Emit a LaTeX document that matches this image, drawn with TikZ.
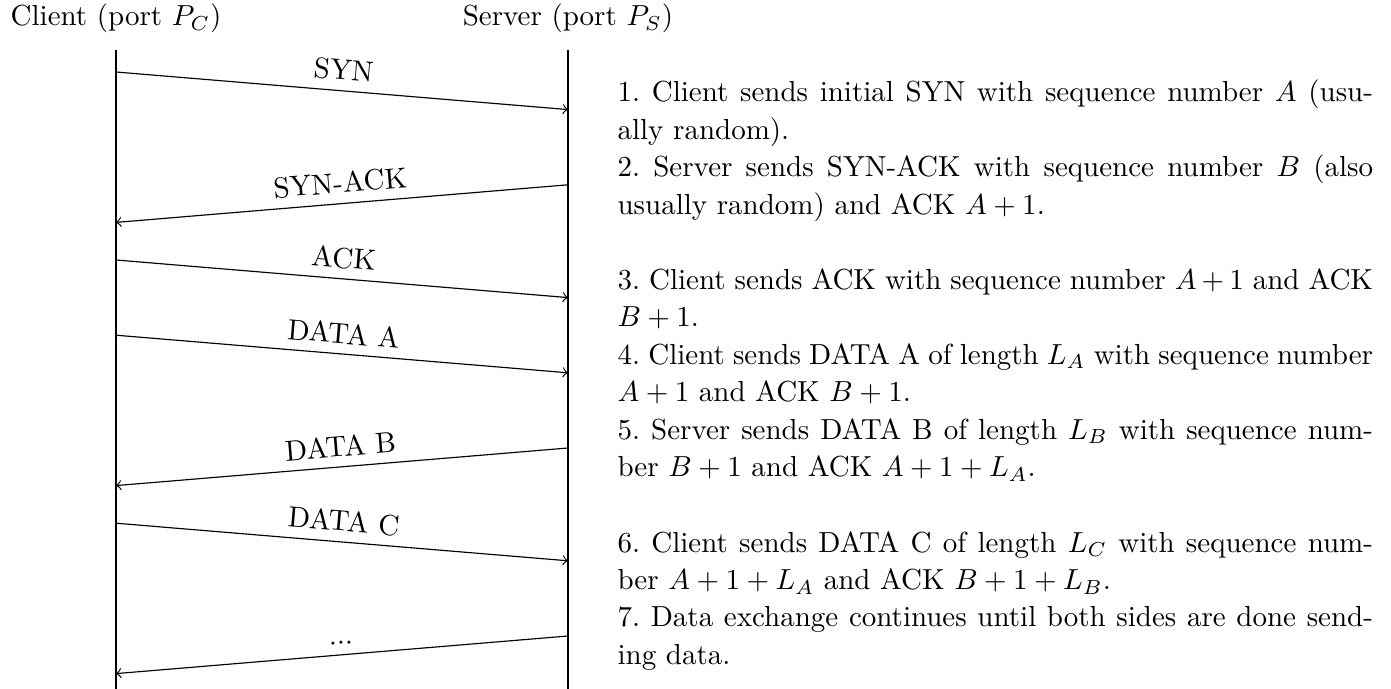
\documentclass[tikz,border=0pt]{standalone}
\usepackage{fontspec}
\begin{document}
\begin{tikzpicture}[x=0.34483pt, y=-0.34483pt,
  font=\fontsize{10}{13}\selectfont,
  life/.style={line width=0.4pt},
  msg/.style={->, line width=0.4pt},
  lbl/.style={midway, above, sloped},
  item/.style={anchor=north west, align=justify, text width=260.5pt, inner sep=0pt,
    font=\fontsize{10}{13}\selectfont\frenchspacing},
  head/.style={anchor=base, inner sep=0pt}]
\useasboundingbox (0,0) rectangle (1391,689);
% headers
\node[head] (client) at (116,26) {Client (port $P_C$)};
\node[head] (server) at (568,26) {Server (port $P_S$)};
% lifelines
\coordinate (ctop) at (116,50);
\coordinate (cbot) at (116,689);
\coordinate (stop) at (568,50);
\coordinate (sbot) at (568,689);
\draw[life] (ctop) -- (cbot);
\draw[life] (stop) -- (sbot);
% message endpoints
\coordinate (c1) at (116,72);    \coordinate (s1) at (568,109.6);
\coordinate (s2) at (568,184.8); \coordinate (c2) at (116,222.4);
\coordinate (c3) at (116,260);   \coordinate (s3) at (568,297.6);
\coordinate (c4) at (116,335.2); \coordinate (s4) at (568,372.8);
\coordinate (s5) at (568,448);   \coordinate (c5) at (116,485.6);
\coordinate (c6) at (116,523.2); \coordinate (s6) at (568,560.8);
\coordinate (s7) at (568,636);   \coordinate (c7) at (116,673.6);
% messages
\draw[msg] (c1) -- node[lbl] (l1) {SYN} (s1);
\draw[msg] (s2) -- node[lbl] (l2) {SYN-ACK} (c2);
\draw[msg] (c3) -- node[lbl] (l3) {ACK} (s3);
\draw[msg] (c4) -- node[lbl] (l4) {DATA A} (s4);
\draw[msg] (s5) -- node[lbl] (l5) {DATA B} (c5);
\draw[msg] (c6) -- node[lbl] (l6) {DATA C} (s6);
\draw[msg] (s7) -- node[lbl] (l7) {...} (c7);
% explanations
\node[item] (t1) at (617,79.3) {1. Client sends initial SYN with sequence number $A$ (usu-\linebreak ally random).};
\node[item] (t2) at (617,154.3) {2. Server sends SYN-ACK with sequence number $B$ (also\linebreak usually random) and ACK $A+1$.};
\node[item] (t3) at (617,267.9) {3. Client sends ACK with sequence number $A+1$ and ACK\linebreak $B+1$.};
\node[item] (t4) at (617,342.9) {4. Client sends DATA A of length $L_A$ with sequence number\linebreak $A+1$ and ACK $B+1$.};
\node[item] (t5) at (617,417.9) {5. Server sends DATA B of length $L_B$ with sequence num-\linebreak ber $B+1$ and ACK $A+1+L_A$.};
\node[item] (t6) at (617,530.9) {6. Client sends DATA C of length $L_C$ with sequence num-\linebreak ber $A+1+L_A$ and ACK $B+1+L_B$.};
\node[item] (t7) at (617,605.9) {7. Data exchange continues until both sides are done send-\linebreak ing data.};
\end{tikzpicture}
\end{document}
